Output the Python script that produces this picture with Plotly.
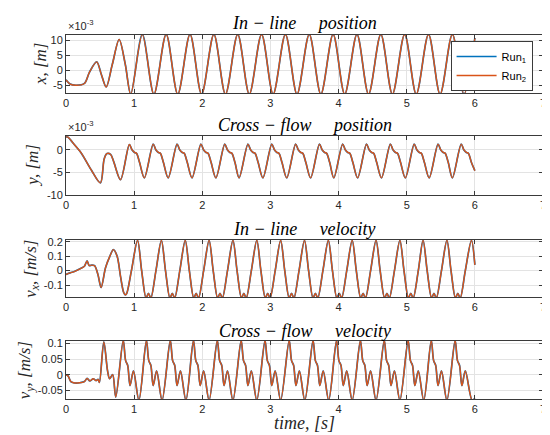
import plotly.graph_objects as go
from plotly.subplots import make_subplots

# ---- data ----
# in-line position x (units of 1e-3 m)
t_x = [0, 0.06, 0.15, 0.27, 0.345, 0.45, 0.52, 0.59, 0.68, 0.78, 0.87, 0.95,
       1.12, 1.29, 1.47, 1.64, 1.82, 1.99, 2.17, 2.34, 2.52, 2.69, 2.87, 3.04,
       3.22, 3.39, 3.57, 3.74, 3.92, 4.09, 4.27, 4.44, 4.62, 4.79, 4.97, 5.14,
       5.32, 5.49, 5.67, 5.84, 6.0]
x_pos = [-3.2, -4.6, -5.0, -4.4, -0.6, 2.8, -1.5, -5.6, 2.0, 10.3, 2.0, -8.0,
         12.0, -8.0, 12.0, -8.0, 12.0, -8.0, 12.0, -8.0, 12.0, -8.0, 12.0, -8.0,
         12.0, -8.0, 12.0, -8.0, 12.0, -8.0, 12.0, -8.0, 12.0, -8.0, 12.0, -8.0,
         12.0, -8.0, 12.0, -8.0, 10.8]

# cross-flow position y (units of 1e-3 m)
t_y = [0, 0.03, 0.1, 0.22, 0.37, 0.505, 0.56, 0.60, 0.655, 0.70, 0.80,
       0.93, 0.97, 1.005, 1.035, 1.08,
       1.15, 1.28, 1.32, 1.355, 1.385, 1.43,
       1.50, 1.63, 1.67, 1.705, 1.735, 1.78,
       1.85, 1.98, 2.02, 2.055, 2.085, 2.13,
       2.20, 2.33, 2.37, 2.405, 2.435, 2.48,
       2.54, 2.67, 2.71, 2.745, 2.775, 2.82,
       2.89, 3.02, 3.06, 3.095, 3.125, 3.17,
       3.24, 3.37, 3.41, 3.445, 3.475, 3.52,
       3.59, 3.72, 3.76, 3.795, 3.825, 3.87,
       3.93, 4.06, 4.10, 4.135, 4.165, 4.21,
       4.28, 4.41, 4.45, 4.485, 4.515, 4.56,
       4.63, 4.76, 4.80, 4.835, 4.865, 4.91,
       4.98, 5.11, 5.15, 5.185, 5.215, 5.26,
       5.33, 5.46, 5.50, 5.535, 5.565, 5.61,
       5.67, 5.80, 5.84, 5.875, 5.905, 5.95,
       6.0]
y_pos = [2.9, 2.85, 1.6, -0.6, -4.4, -7.3, -2.0, -0.8, -1.0, -2.6, -6.6,
         1.2, 0.0, -0.55, -0.75, -2.8,
         -6.2, 1.3, 0.0, -0.55, -0.75, -2.8,
         -6.2, 1.3, 0.0, -0.55, -0.75, -2.8,
         -6.2, 1.3, 0.0, -0.55, -0.75, -2.8,
         -6.2, 1.3, 0.0, -0.55, -0.75, -2.8,
         -6.2, 1.3, 0.0, -0.55, -0.75, -2.8,
         -6.2, 1.3, 0.0, -0.55, -0.75, -2.8,
         -6.2, 1.3, 0.0, -0.55, -0.75, -2.8,
         -6.2, 1.3, 0.0, -0.55, -0.75, -2.8,
         -6.2, 1.3, 0.0, -0.55, -0.75, -2.8,
         -6.2, 1.3, 0.0, -0.55, -0.75, -2.8,
         -6.2, 1.3, 0.0, -0.55, -0.75, -2.8,
         -6.2, 1.3, 0.0, -0.55, -0.75, -2.8,
         -6.2, 1.3, 0.0, -0.55, -0.75, -2.8,
         -6.2, 1.3, 0.0, -0.55, -0.75, -2.8,
         -4.6]

# in-line velocity vx (m/s)
t_vx = [0, 0.06, 0.13, 0.22, 0.27, 0.31, 0.34, 0.38, 0.42, 0.47, 0.515,
        0.58, 0.64, 0.695, 0.75, 0.80, 0.845, 0.87, 0.89, 0.96,
        1.05, 1.11, 1.175, 1.21, 1.245, 1.32,
        1.40, 1.46, 1.525, 1.56, 1.595, 1.67,
        1.75, 1.81, 1.875, 1.91, 1.945, 2.02,
        2.10, 2.16, 2.225, 2.26, 2.295, 2.37,
        2.45, 2.51, 2.575, 2.61, 2.645, 2.72,
        2.80, 2.86, 2.925, 2.96, 2.995, 3.07,
        3.15, 3.21, 3.275, 3.31, 3.345, 3.42,
        3.50, 3.56, 3.625, 3.66, 3.695, 3.77,
        3.85, 3.91, 3.975, 4.01, 4.045, 4.12,
        4.20, 4.26, 4.325, 4.36, 4.395, 4.47,
        4.55, 4.61, 4.675, 4.71, 4.745, 4.82,
        4.90, 4.96, 5.025, 5.06, 5.095, 5.17,
        5.24, 5.30, 5.365, 5.40, 5.435, 5.51,
        5.59, 5.65, 5.715, 5.75, 5.785, 5.86,
        5.95, 6.0]
vx = [-0.027, -0.016, -0.005, 0.016, 0.03, 0.067, 0.035, 0.038, 0.034, -0.03, -0.117,
      0.02, 0.095, 0.145, 0.10, -0.04, -0.15, -0.168, -0.16, 0.0,
      0.21, 0.0, -0.19, -0.158, -0.19, 0.0,
      0.21, 0.0, -0.19, -0.158, -0.19, 0.0,
      0.21, 0.0, -0.19, -0.158, -0.19, 0.0,
      0.21, 0.0, -0.19, -0.158, -0.19, 0.0,
      0.21, 0.0, -0.19, -0.158, -0.19, 0.0,
      0.21, 0.0, -0.19, -0.158, -0.19, 0.0,
      0.21, 0.0, -0.19, -0.158, -0.19, 0.0,
      0.21, 0.0, -0.19, -0.158, -0.19, 0.0,
      0.21, 0.0, -0.19, -0.158, -0.19, 0.0,
      0.21, 0.0, -0.19, -0.158, -0.19, 0.0,
      0.21, 0.0, -0.19, -0.158, -0.19, 0.0,
      0.21, 0.0, -0.19, -0.158, -0.19, 0.0,
      0.21, 0.0, -0.19, -0.158, -0.19, 0.0,
      0.21, 0.0, -0.19, -0.158, -0.19, 0.0,
      0.21, 0.04]

# cross-flow velocity vy (m/s)
t_vy = [0, 0.03, 0.07, 0.11, 0.2, 0.27, 0.31, 0.35, 0.40, 0.44, 0.47, 0.49,
        0.555, 0.61, 0.64, 0.685, 0.73,
        0.84, 0.875, 0.905, 0.94, 0.99, 1.07,
        1.18, 1.215, 1.245, 1.28, 1.33, 1.41,
        1.53, 1.565, 1.595, 1.63, 1.68, 1.76,
        1.87, 1.905, 1.935, 1.97, 2.02, 2.10,
        2.22, 2.255, 2.285, 2.32, 2.37, 2.45,
        2.57, 2.605, 2.635, 2.67, 2.72, 2.80,
        2.92, 2.955, 2.985, 3.02, 3.07, 3.15,
        3.275, 3.31, 3.34, 3.375, 3.425, 3.505,
        3.625, 3.66, 3.69, 3.725, 3.775, 3.855,
        3.97, 4.005, 4.035, 4.07, 4.12, 4.20,
        4.32, 4.355, 4.385, 4.42, 4.47, 4.55,
        4.67, 4.705, 4.735, 4.77, 4.82, 4.90,
        5.02, 5.055, 5.085, 5.12, 5.17, 5.25,
        5.36, 5.395, 5.425, 5.46, 5.51, 5.59,
        5.71, 5.745, 5.775, 5.81, 5.86, 5.96,
        6.0]
vy = [0.0, -0.004, -0.022, -0.026, -0.026, -0.022, -0.012, -0.02, -0.013, -0.019, -0.015, -0.025,
      0.105, 0.012, -0.013, 0.0, -0.072,
      0.11, 0.045, 0.03, -0.035, 0.012, -0.082,
      0.11, 0.045, 0.03, -0.035, 0.012, -0.082,
      0.11, 0.045, 0.03, -0.035, 0.012, -0.082,
      0.11, 0.045, 0.03, -0.035, 0.012, -0.082,
      0.11, 0.045, 0.03, -0.035, 0.012, -0.082,
      0.11, 0.045, 0.03, -0.035, 0.012, -0.082,
      0.11, 0.045, 0.03, -0.035, 0.012, -0.082,
      0.11, 0.045, 0.03, -0.035, 0.012, -0.082,
      0.11, 0.045, 0.03, -0.035, 0.012, -0.082,
      0.11, 0.045, 0.03, -0.035, 0.012, -0.082,
      0.11, 0.045, 0.03, -0.035, 0.012, -0.082,
      0.11, 0.045, 0.03, -0.035, 0.012, -0.082,
      0.11, 0.045, 0.03, -0.035, 0.012, -0.082,
      0.11, 0.045, 0.03, -0.035, 0.012, -0.082,
      0.11, 0.045, 0.03, -0.035, 0.012, -0.082,
      -0.076]

titles = ["In − line   position", "Cross − flow   position",
          "In − line   velocity", "Cross − flow   velocity"]
ylabels = ["x, [m]", "y, [m]", "v<sub>x</sub>, [m/s]", "v<sub>y</sub>, [m/s]"]
x_ticks = [0, 1, 2, 3, 4, 5, 6, 7]
y_ticks = [[-5, 0, 5, 10], [-10, -5, 0], [-0.1, 0, 0.1, 0.2], [-0.05, 0, 0.05, 0.1]]
y_ticktext = [["-5", "0", "5", "10"], ["-10", "-5", "0"],
              ["-0.1", "0", "0.1", "0.2"], ["-0.05", "0", "0.05", "0.1"]]
y_ranges = [[-7.6, 11.8], [-10, 3.1], [-0.183, 0.212], [-0.078, 0.108]]

BLUE = "#0072BD"
ORANGE = "#D95319"
AXC = "#3a3a3a"
SERIF = "Liberation Serif, Times New Roman, serif"
SANS = "Liberation Sans, Arial, sans-serif"

# pixel layout helpers (plot area 58..538 x 27..391)
def px_x(p):
    return (p - 58) / 480.0


def px_y(p):
    return (391 - p) / 364.0


boxes = [(27, 85), (128, 187), (232, 289), (333, 391)]

fig = make_subplots(rows=4, cols=1)

series = [(t_x, x_pos), (t_y, y_pos), (t_vx, vx), (t_vy, vy)]
for i, (t, v) in enumerate(series):
    fig.add_trace(go.Scatter(x=t, y=v, mode="lines", name="Run<sub>1</sub>",
                             line=dict(color=BLUE, width=1.7, shape="spline", smoothing=0.9),
                             showlegend=(i == 0), legendgroup="r1"), row=i + 1, col=1)
    fig.add_trace(go.Scatter(x=t, y=v, mode="lines", name="Run<sub>2</sub>",
                             line=dict(color=ORANGE, width=1.4, shape="spline", smoothing=0.9),
                             showlegend=(i == 0), legendgroup="r2"), row=i + 1, col=1)

for i in range(4):
    top, bot = boxes[i]
    fig.update_xaxes(range=[0, 7], tickvals=x_ticks, ticks="inside", ticklen=4,
                     tickcolor=AXC, mirror="allticks", showline=True, linecolor=AXC,
                     linewidth=1, showgrid=True, gridcolor="#e3e3e3", zeroline=False,
                     tickfont=dict(family=SANS, size=11, color="#262626"),
                     row=i + 1, col=1)
    fig.update_yaxes(range=y_ranges[i], tickvals=y_ticks[i], ticktext=y_ticktext[i],
                     ticks="inside", ticklen=4, tickcolor=AXC, mirror="allticks",
                     showline=True, linecolor=AXC, linewidth=1, showgrid=True,
                     gridcolor="#e3e3e3", zeroline=False, domain=[px_y(bot), px_y(top)],
                     tickfont=dict(family=SANS, size=11, color="#262626"),
                     row=i + 1, col=1)

annotations = []
title_y = [15, 117, 221, 323]
for i in range(4):
    annotations.append(dict(text="<i>" + titles[i].replace("   ", "\u00a0\u00a0\u00a0\u00a0\u00a0") + "</i>",
                            x=0.5, y=px_y(title_y[i]), xref="paper", yref="paper",
                            xanchor="center", yanchor="middle", showarrow=False,
                            font=dict(family=SERIF, size=18, color="black")))

ylab_x = [32, 24, 23, 18]
for i in range(4):
    top, bot = boxes[i]
    annotations.append(dict(text="<i>" + ylabels[i] + "</i>", textangle=-90,
                            x=px_x(ylab_x[i]), y=px_y((top + bot) / 2), xref="paper", yref="paper",
                            xanchor="center", yanchor="middle", showarrow=False,
                            font=dict(family=SERIF, size=17, color="#262626")))

for yy in [26, 127]:
    annotations.append(dict(text="×10<sup>-3</sup>", x=px_x(58), y=px_y(yy),
                            xref="paper", yref="paper", xanchor="left", yanchor="bottom",
                            showarrow=False,
                            font=dict(family=SANS, size=11, color="#262626")))

annotations.append(dict(text="<i>time, [s]</i>", x=0.5, y=px_y(415), xref="paper", yref="paper",
                        xanchor="center", yanchor="middle", showarrow=False,
                        font=dict(family=SERIF, size=18, color="#262626")))

fig.update_layout(
    width=550, height=435, autosize=False,
    margin=dict(l=58, r=12, t=27, b=44),
    plot_bgcolor="white", paper_bgcolor="white",
    annotations=annotations,
    legend=dict(x=px_x(445), y=px_y(33), xanchor="left", yanchor="top",
                bgcolor="white", bordercolor=AXC, borderwidth=1,
                font=dict(family=SANS, size=11, color="black"),
                tracegroupgap=0, itemwidth=40),
)

fig.write_html("out.html")
